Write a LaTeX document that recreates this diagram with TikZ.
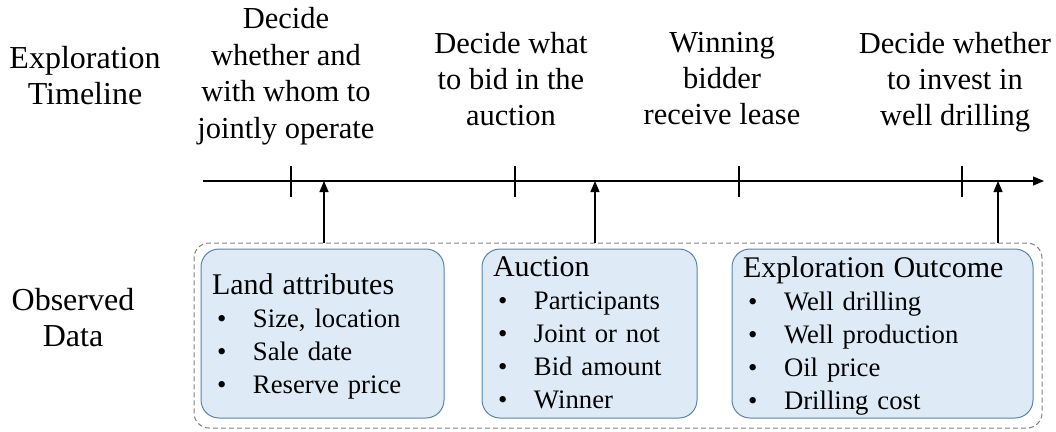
\documentclass[tikz,border=0pt]{standalone}
\usepackage{fontspec}
\setmainfont{Liberation Serif}
\usetikzlibrary{arrows.meta}
\definecolor{boxfill}{RGB}{222,235,247}
\definecolor{boxline}{RGB}{88,130,176}
\definecolor{dashgray}{RGB}{128,128,128}
\newcommand{\dotitem}{\makebox[41pt][l]{\hspace{5pt}\textbullet}}
\newcommand{\boxtitle}[1]{{\fontsize{30}{33}\selectfont #1}}
\begin{document}
\begin{tikzpicture}[x=1pt,y=-1pt,
	bigtext/.style={font=\fontsize{30.5}{36.5}\selectfont, align=center, inner sep=0pt},
	sidetext/.style={font=\fontsize{32}{36}\selectfont, align=center, inner sep=0pt},
	databox/.style={draw=boxline, line width=1pt, fill=boxfill, rounded corners=18pt,
		minimum height=169pt, inner xsep=11pt, inner ysep=0pt, text width=#1,
		align=left, font=\fontsize{26.7}{33}\selectfont},
	tiparrow/.style={-{Triangle[length=11pt,width=9pt]}, line width=1.2pt}]
	\useasboundingbox (0,0) rectangle (1056,431);
	
	%row labels
	\node[sidetext, anchor=north] (timelabel) at (85,46) {Exploration\\Timeline};
	\node[sidetext, anchor=north] (datalabel) at (73,288) {Observed\\Data};
	
	%decisions
	\node[bigtext, anchor=north] (jointtext) at (286,7.5) {Decide\\whether and\\with whom to\\jointly operate};
	\node[bigtext, anchor=north, font=\fontsize{30.5}{36}\selectfont] (bidtext) at (511,32) {Decide what\\to bid in the\\auction};
	\node[bigtext, anchor=north, font=\fontsize{30.5}{36}\selectfont] (leasetext) at (722,32) {Winning\\bidder\\receive lease};
	\node[bigtext, anchor=north, font=\fontsize{30.5}{36}\selectfont] (drilltext) at (955,32) {Decide whether\\to invest in\\well drilling};
	
	%time axis
	\coordinate (axisstart) at (203,181);
	\coordinate (axisend) at (1044,181);
	\draw[tiparrow] (axisstart) -- (axisend);
	\foreach \x in {291, 515, 739, 962}{
		\draw[line width=1.2pt] (\x,166)--(\x,197);
	}
	
	%observed data
	\node[draw=dashgray, line width=1pt, dash pattern=on 5pt off 3pt, rounded corners=15pt,
		minimum width=848pt, minimum height=185pt, inner sep=0pt] (datagroup) at (618,335.5) {};
	\node[databox=221pt, text depth=99.5pt] (landbox) at (322.5,333.5) {\boxtitle{Land attributes}\\\dotitem Size, location\\\dotitem Sale date\\\dotitem Reserve price};
	\node[databox=193pt, text depth=133pt] (auctionbox) at (589.5,333.5) {\boxtitle{Auction}\\\dotitem Participants\\\dotitem Joint or not\\\dotitem Bid amount\\\dotitem Winner};
	\node[databox=279pt, text depth=133pt] (outcomebox) at (882.5,333.5) {\boxtitle{Exploration Outcome}\\\dotitem Well drilling\\\dotitem Well production\\\dotitem Oil price\\\dotitem Drilling cost};
	
	%data enters the timeline
	\coordinate (landpt) at (324,181);
	\coordinate (auctionpt) at (595,181);
	\coordinate (outcomept) at (998,181);
	\draw[tiparrow] (datagroup.north -| landpt) -- (landpt);
	\draw[tiparrow] (datagroup.north -| auctionpt) -- (auctionpt);
	\draw[tiparrow] (datagroup.north -| outcomept) -- (outcomept);
\end{tikzpicture}
\end{document}
